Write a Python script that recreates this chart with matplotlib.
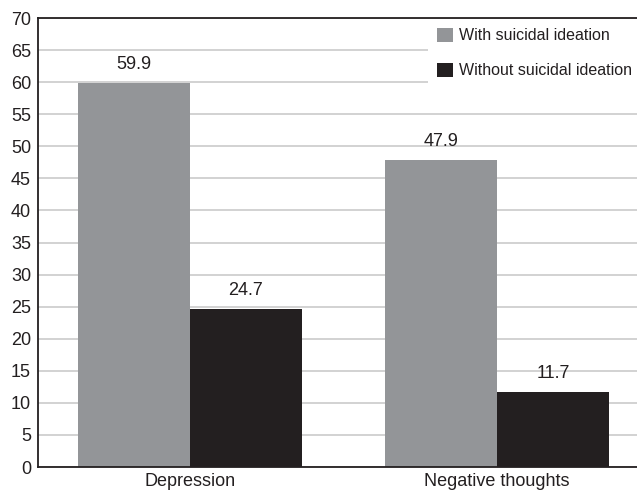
import numpy as np
import matplotlib.pyplot as plt

plt.rcParams['font.family'] = ['Liberation Sans', 'DejaVu Sans']

categories = ['Depression', 'Negative thoughts']
with_ideation = [59.9, 47.9]
without_ideation = [24.7, 11.7]
series_names = ['With suicidal ideation', 'Without suicidal ideation']
yticks = list(range(0, 75, 5))

gray = '#939598'
black = '#231f20'

fig = plt.figure(figsize=(6.37, 4.9), dpi=100)
ax = fig.add_axes([38 / 637, 1 - 467 / 490, (660 - 38) / 637, (467 - 18) / 490])

x = np.arange(len(categories))
w = 0.365
b1 = ax.bar(x - w / 2, with_ideation, w, color=gray, label=series_names[0], zorder=2)
b2 = ax.bar(x + w / 2, without_ideation, w, color=black, label=series_names[1], zorder=2)

for bars in (b1, b2):
    for r in bars:
        ax.annotate(f'{r.get_height():.1f}', (r.get_x() + r.get_width() / 2, r.get_height()),
                    xytext=(0, 7), textcoords='offset points', ha='center', va='bottom',
                    fontsize=13, color='#231f20')

ax.set_xlim(-0.495, 1.531)
ax.set_ylim(0, 70)
ax.set_yticks(yticks)
ax.set_xticks(x)
ax.set_xticklabels(categories)
ax.tick_params(length=0, labelsize=13, colors='#231f20', pad=5)
ax.tick_params(axis='x', pad=4)
ax.yaxis.grid(True, color='#cfcfcf', linewidth=1.3, zorder=0)
ax.set_axisbelow(True)

for s in ('left', 'top', 'bottom'):
    ax.spines[s].set_color('#231f20')
    ax.spines[s].set_linewidth(1.3)
ax.spines['right'].set_visible(False)

leg = ax.legend(loc='upper left', bbox_to_anchor=(428 / 637, 1 - 19 / 490),
                bbox_transform=fig.transFigure, frameon=True, fancybox=False,
                fontsize=11.5, handlelength=1.0, handleheight=1.0, labelspacing=1.2,
                handletextpad=0.4, borderpad=0.55, borderaxespad=0)
leg.get_frame().set_facecolor('white')
leg.get_frame().set_edgecolor('none')
leg.get_frame().set_alpha(1)
for t in leg.get_texts():
    t.set_color('#231f20')

fig.savefig('out.png', dpi=100)
